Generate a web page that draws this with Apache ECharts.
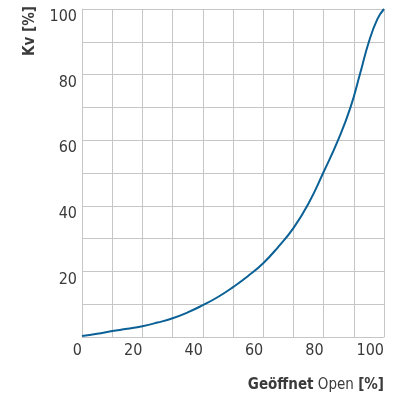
<!DOCTYPE html>
<html>
<head>
<meta charset="utf-8">
<script src="https://cdn.jsdelivr.net/npm/echarts@6/dist/echarts.min.js"></script>
<style>
  html, body { margin: 0; padding: 0; background: #fff; }
  #chart { width: 398px; height: 396px; }
</style>
</head>
<body>
<div id="chart"></div>
<script>
var dom = document.getElementById('chart');
var myChart = echarts.init(dom);

// opening [%] and Kv [%]
var opening = [0, 5, 10, 15, 20, 25, 30, 35, 40, 45, 50, 55, 60, 65, 70, 75, 80, 85, 88.9, 92, 95, 97.8, 100];
var kv = [0.3, 1.0, 1.8, 2.5, 3.3, 4.4, 5.7, 7.5, 9.7, 12.2, 15.2, 18.6, 22.5, 27.5, 33.2, 40.7, 50.3, 60.5, 70, 80, 90, 96.9, 100];

var font = "'Liberation Sans Narrow', 'DejaVu Sans Condensed', sans-serif";
var textColor = '#3a3a3a';
var gridColor = '#c6c6c6';

var points = opening.map(function (o, i) { return [o, kv[i]]; });

option = {
    animation: false,
    grid: { left: 82, right: 14, top: 9, bottom: 59 },
    xAxis: {
        type: 'value',
        min: 0, max: 100, interval: 10,
        axisLine: { show: true, lineStyle: { color: gridColor, width: 1 } },
        axisTick: { show: false },
        splitLine: { show: true, lineStyle: { color: gridColor, width: 1 } },
        axisLabel: {
            align: 'right',
            margin: 6,
            fontFamily: font, fontSize: 16, color: textColor,
            formatter: function (v) { return v % 20 === 0 ? String(v) : ''; }
        }
    },
    yAxis: {
        type: 'value',
        min: 0, max: 100, interval: 10,
        axisLine: { show: true, lineStyle: { color: gridColor, width: 1 } },
        axisTick: { show: false },
        splitLine: { show: true, lineStyle: { color: gridColor, width: 1 } },
        axisLabel: {
            verticalAlign: 'top',
            margin: 5,
            fontFamily: font, fontSize: 16, color: textColor,
            formatter: function (v) { return (v % 20 === 0 && v !== 0) ? String(v) : ''; }
        }
    },
    graphic: [
        {
            type: 'text',
            x: 30, y: 31,
            rotation: Math.PI / 2,
            style: {
                text: 'Kv [%]',
                fontFamily: font, fontSize: 15, fontWeight: 'bold',
                fill: textColor, align: 'center', verticalAlign: 'middle'
            }
        },
        {
            type: 'text',
            x: 384, y: 385,
            style: {
                text: '{b|Geöffnet} Open {b|[%]}',
                fontFamily: font, fontSize: 15,
                fill: textColor, align: 'right', verticalAlign: 'middle',
                rich: {
                    b: { fontFamily: font, fontSize: 15, fontWeight: 'bold', fill: textColor }
                }
            }
        }
    ],
    series: [{
        type: 'line',
        data: points,
        smooth: true,
        showSymbol: false,
        lineStyle: { color: '#0b6196', width: 2 }
    }]
};

myChart.setOption(option);
</script>
</body>
</html>
